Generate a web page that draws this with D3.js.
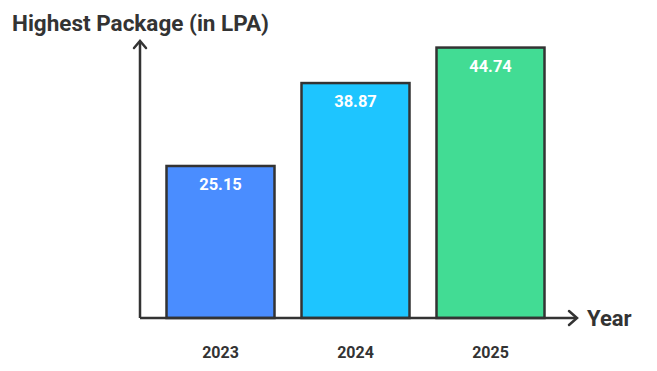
<!DOCTYPE html>
<html>
<head>
<meta charset="utf-8">
<script src="https://cdn.jsdelivr.net/npm/d3@7"></script>
<style>
  body { margin: 0; background: #fff; }
  text { font-family: Roboto, "Noto Sans", sans-serif; }
</style>
</head>
<body>
<div id="chart"></div>
<script>
var years = ["2023", "2024", "2025"];
var packages = [25.15, 38.87, 44.74];
var barColors = ["#4a8dff", "#1ec5ff", "#42dc94"];

var width = 657, height = 371;
var axisX = 140, axisY = 318;
var ink = "#333333";

var svg = d3.select("#chart").append("svg")
  .attr("width", width)
  .attr("height", height);

// scales
var x = d3.scaleBand()
  .domain(years)
  .range([153, 558])
  .paddingInner(0.2)
  .paddingOuter(0.1);

var y = d3.scaleLinear()
  .domain([0, 45])
  .range([axisY, axisY - 272]);

// bars
svg.selectAll(".bar")
  .data(years)
  .enter()
  .append("rect")
  .attr("class", "bar")
  .attr("x", function(d) { return x(d); })
  .attr("y", function(d, i) { return y(packages[i]); })
  .attr("width", x.bandwidth())
  .attr("height", function(d, i) { return axisY - y(packages[i]); })
  .style("fill", function(d, i) { return barColors[i]; })
  .style("stroke", ink)
  .style("stroke-width", 2.5);

// value labels inside bars
svg.selectAll(".value")
  .data(years)
  .enter()
  .append("text")
  .attr("x", function(d) { return x(d) + x.bandwidth() / 2; })
  .attr("y", function(d, i) { return y(packages[i]) + 24; })
  .attr("text-anchor", "middle")
  .style("fill", "#fff")
  .style("font-weight", "bold")
  .style("font-size", "16.5px")
  .text(function(d, i) { return packages[i].toFixed(2); });

// year labels
svg.selectAll(".year")
  .data(years)
  .enter()
  .append("text")
  .attr("x", function(d) { return x(d) + x.bandwidth() / 2; })
  .attr("y", 358)
  .attr("text-anchor", "middle")
  .style("fill", ink)
  .style("font-weight", "bold")
  .style("font-size", "16px")
  .text(function(d) { return d; });

// axes with arrow heads
svg.append("line")
  .attr("x1", axisX).attr("y1", axisY)
  .attr("x2", axisX).attr("y2", 42)
  .style("stroke", ink).style("stroke-width", 2.5);
svg.append("path")
  .attr("d", "M" + (axisX - 6) + ",48 L" + axisX + ",41 L" + (axisX + 6) + ",48")
  .style("fill", "none").style("stroke", ink).style("stroke-width", 2.5)
  .style("stroke-linecap", "round");

svg.append("line")
  .attr("x1", axisX).attr("y1", axisY)
  .attr("x2", 576).attr("y2", axisY)
  .style("stroke", ink).style("stroke-width", 2.5);
svg.append("path")
  .attr("d", "M569," + (axisY - 7) + " L577," + axisY + " L569," + (axisY + 7))
  .style("fill", "none").style("stroke", ink).style("stroke-width", 2.5)
  .style("stroke-linecap", "round");

// titles
svg.append("text")
  .attr("x", 12)
  .attr("y", 31)
  .style("fill", ink)
  .style("font-weight", "bold")
  .style("font-size", "22.5px")
  .text("Highest Package (in LPA)");

svg.append("text")
  .attr("x", 587)
  .attr("y", 326)
  .style("fill", ink)
  .style("font-weight", "bold")
  .style("font-size", "22px")
  .text("Year");
</script>
</body>
</html>
